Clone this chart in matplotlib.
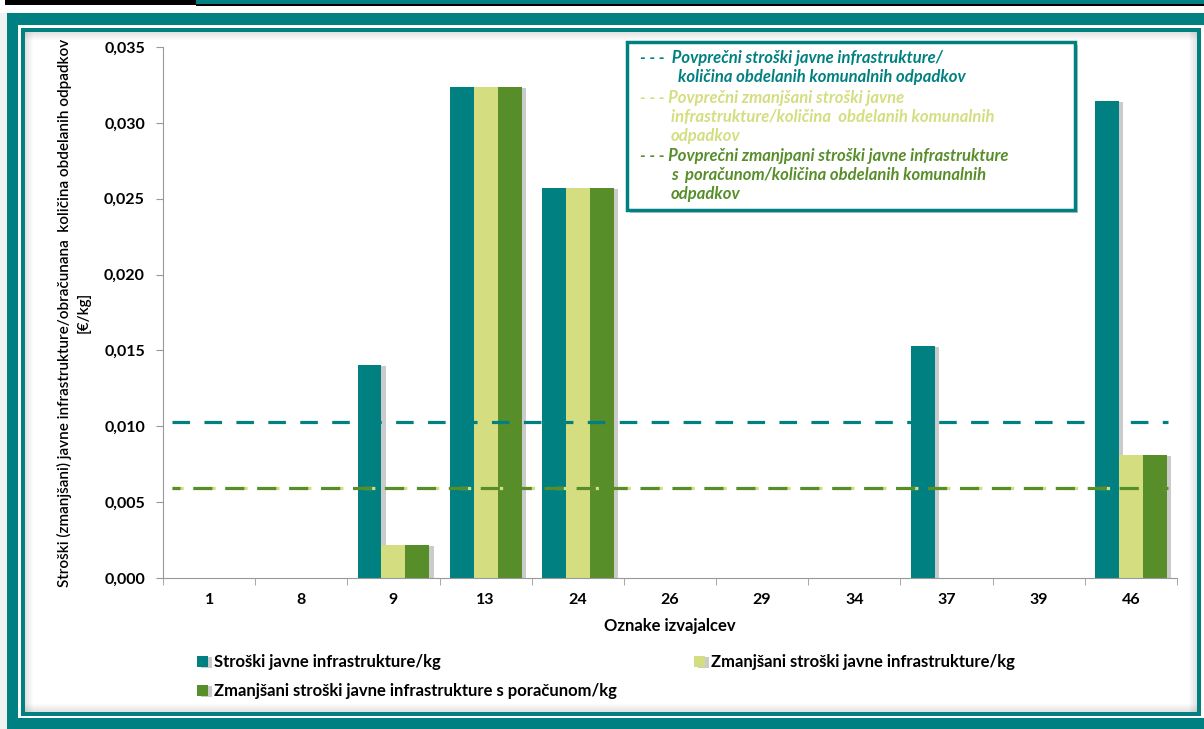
import numpy as np
import matplotlib
matplotlib.use("Agg")
import matplotlib.pyplot as plt
from matplotlib.patches import Rectangle
from matplotlib.ticker import FuncFormatter, FixedLocator
import matplotlib.patheffects as pe

plt.rcParams['font.family'] = ['Lato', 'DejaVu Sans']

# data
categories = ['1', '8', '9', '13', '24', '26', '29', '34', '37', '39', '46']
stroski = [0, 0, 0.01404, 0.03236, 0.02571, 0, 0, 0, 0.01529, 0, 0.03144]
zmanjsani = [0, 0, 0.00218, 0.03236, 0.02571, 0, 0, 0, 0, 0, 0.00811]
poracun = [0, 0, 0.00218, 0.03236, 0.02571, 0, 0, 0, 0, 0, 0.00811]
avg_stroski = 0.01028
avg_zmanjsani = 0.00593
avg_poracun = 0.00593

series_names = ['Stroški javne infrastrukture/kg',
                'Zmanjšani stroški javne infrastrukture/kg',
                'Zmanjšani stroški javne infrastrukture s poračunom/kg']

teal = '#008080'
light = '#D4DE80'
green = '#578E2A'

W, H = 1204, 729
fig = plt.figure(figsize=(W / 100, H / 100), dpi=100)
fig.patch.set_facecolor('white')


def rect(x, y, w, h, color, z=-5, alpha=1.0, **kw):
    r = Rectangle((x / W, 1 - (y + h) / H), w / W, h / H, transform=fig.transFigure,
                  facecolor=color, edgecolor='none', zorder=z, alpha=alpha, **kw)
    fig.patches.append(r)
    return r


# page frame
rect(0, 13, 7, H, '#eef3f2', z=-10)
rect(5, 0, 191, 5, 'black', z=-10)
rect(196, 0, W, 6, 'black', z=-10)
rect(196, 0, W, 4, teal, z=-9)
rect(7, 13, W, H, teal, z=-8)
rect(18, 25, W, 693, 'white', z=-7)
rect(21, 28, 1180, 688, teal, z=-6)
rect(25, 32, 1172, 680, 'white', z=-5)
# inner shadow
for i in range(8):
    a = 0.22 * (1 - i / 8)
    rect(25, 32 + i, 1172, 1, '#808080', z=-4, alpha=a)
    rect(25 + i, 32, 1, 680, '#808080', z=-4, alpha=a)
    rect(1196 - i, 32, 1, 680, '#808080', z=-4, alpha=a)
    rect(25, 711 - i, 1172, 1, '#808080', z=-4, alpha=a)

ax = fig.add_axes([163 / W, 1 - 578 / H, (1177 - 163) / W, (578 - 47) / H])
ax.set_facecolor('none')

x = np.arange(len(categories))
bw = 0.26
shadow = [pe.SimplePatchShadow(offset=(3, -1), alpha=0.3, shadow_rgbFace='#555555'), pe.Normal()]
b1 = ax.bar(x - bw, stroski, bw, color=teal, label=series_names[0], zorder=2)
b2 = ax.bar(x, zmanjsani, bw, color=light, label=series_names[1], zorder=2)
b3 = ax.bar(x + bw, poracun, bw, color=green, label=series_names[2], zorder=2)
for bars in (b1, b2, b3):
    for p in bars:
        p.set_path_effects(shadow)

ax.hlines(avg_stroski, -0.4, 10.4, colors=teal, linewidth=2.3, linestyles=(0, (5.5, 4.5)), zorder=3)
ax.hlines(avg_zmanjsani, -0.4, 10.4, colors=light, linewidth=2.3, linestyles=(0, (3.5, 6.5)), zorder=3)
ax.hlines(avg_poracun, -0.4, 10.4, colors=green, linewidth=2.3, linestyles=(3.5, (6.0, 4.0)), zorder=4)

ax.set_xlim(-0.5, len(categories) - 0.5)
ax.set_ylim(0, 0.035)
ax.set_yticks(np.arange(0, 0.0351, 0.005))
ax.yaxis.set_major_formatter(FuncFormatter(lambda v, p: f"{v:.3f}".replace('.', ',')))
ax.set_xticks(x)
ax.set_xticklabels(categories)
ax.xaxis.set_minor_locator(FixedLocator(np.arange(-0.5, len(categories), 1.0)))
ax.tick_params(axis='x', which='major', length=0, pad=11)
ax.tick_params(axis='x', which='minor', length=5, color='#999999', direction='out')
ax.tick_params(axis='y', length=5, color='#999999', direction='out', pad=8)
for lab in ax.get_xticklabels() + ax.get_yticklabels():
    lab.set_fontweight('bold')
    lab.set_fontsize(11.5)
for s in ('top', 'right'):
    ax.spines[s].set_visible(False)
for s in ('left', 'bottom'):
    ax.spines[s].set_color('#999999')

ax.set_xlabel('Oznake izvajalcev', fontsize=12, fontweight='bold', labelpad=8)
ax.set_ylabel('Stroški (zmanjšani) javne infrastrukture/obračunana  količina obdelanih odpadkov\n[€/kg]',
              fontsize=11, fontweight='semibold', labelpad=10, linespacing=1.35)

# legend box for average lines
box = Rectangle((627 / W, 1 - 210 / H), 448 / W, 168 / H, transform=fig.transFigure,
                facecolor='white', edgecolor=teal, linewidth=2.5, zorder=5,
                path_effects=[pe.SimplePatchShadow(offset=(2, -2), alpha=0.3), pe.Normal()])
fig.patches.append(box)
box_lines = [
    (640, 58, '- - -  Povprečni stroški javne infrastrukture/', teal),
    (678, 77, 'količina obdelanih komunalnih odpadkov', teal),
    (640, 98, '- - - Povprečni zmanjšani stroški javne', light),
    (671, 117, 'infrastrukture/količina  obdelanih komunalnih', light),
    (671, 136, 'odpadkov', light),
    (640, 156, '- - - Povprečni zmanjpani stroški javne infrastrukture', green),
    (671, 175, 's  poračunom/količina obdelanih komunalnih', green),
    (671, 194, 'odpadkov', green),
]
for tx, ty, s, c in box_lines:
    fig.text(tx / W, 1 - ty / H, s, color=c, fontsize=12, fontstyle='italic',
             fontweight='bold', va='center', ha='left', zorder=6)

# bottom legend
leg_pos = [(197, 662), (694, 662), (197, 691)]
for bars, name, (lx, ly) in zip((b1, b2, b3), series_names, leg_pos):
    lg = fig.legend([bars], [name], loc='center left', bbox_to_anchor=(lx / W, 1 - ly / H),
                    frameon=False, handlelength=0.65, handleheight=0.65, handletextpad=0.35,
                    borderpad=0, borderaxespad=0, prop={'weight': 'bold', 'size': 12})

fig.savefig('out.png', dpi=100)
